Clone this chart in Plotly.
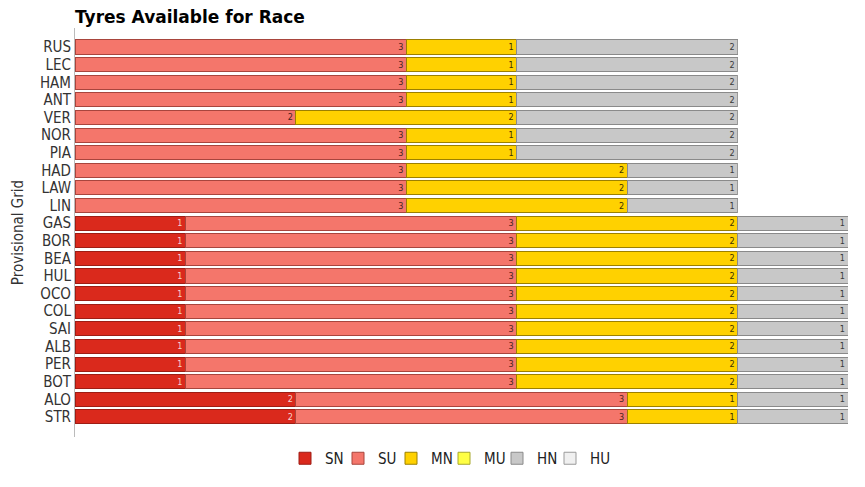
import plotly.graph_objects as go

drivers = ["RUS", "LEC", "HAM", "ANT", "VER", "NOR", "PIA", "HAD", "LAW", "LIN",
           "GAS", "BOR", "BEA", "HUL", "OCO", "COL", "SAI", "ALB", "PER", "BOT",
           "ALO", "STR"]

SN = [0, 0, 0, 0, 0, 0, 0, 0, 0, 0, 1, 1, 1, 1, 1, 1, 1, 1, 1, 1, 2, 2]
SU = [3, 3, 3, 3, 2, 3, 3, 3, 3, 3, 3, 3, 3, 3, 3, 3, 3, 3, 3, 3, 3, 3]
MN = [1, 1, 1, 1, 2, 1, 1, 2, 2, 2, 2, 2, 2, 2, 2, 2, 2, 2, 2, 2, 1, 1]
MU = [0] * 22
HN = [2, 2, 2, 2, 2, 2, 2, 1, 1, 1, 1, 1, 1, 1, 1, 1, 1, 1, 1, 1, 1, 1]
HU = [0] * 22

series = [
    ("SN", SN, "#DA291C", "#9E1D14", "#F5D5D0"),
    ("SU", SU, "#F4766B", "#A8453D", "#4A2420"),
    ("MN", MN, "#FFD100", "#9C8000", "#3D3200"),
    ("MU", MU, "#FFFF44", "#A8A82C", "#4A4A00"),
    ("HN", HN, "#C8C8C8", "#8A8A8A", "#3A3A3A"),
    ("HU", HU, "#F0F0F0", "#9A9A9A", "#3A3A3A"),
]

FONT = "DejaVu Sans Condensed, Liberation Sans Narrow, sans-serif"

fig = go.Figure()
for name, vals, fill, edge, tcol in series:
    fig.add_trace(go.Bar(
        name=name, y=drivers, x=vals, orientation="h",
        marker=dict(color=fill, line=dict(color=edge, width=1)),
        text=[str(v) if v else "" for v in vals],
        textposition="inside", insidetextanchor="end", textangle=0,
        textfont=dict(size=9, color=tcol, family=FONT),
        constraintext="none",
        hoverinfo="x+y+name",
    ))

# empty spacer entry so the last legend label is not clipped
fig.add_trace(go.Bar(
    name=" ", y=[None], x=[None], orientation="h",
    marker=dict(color="rgba(0,0,0,0)", line=dict(width=0)),
    hoverinfo="skip",
))

fig.update_layout(
    barmode="stack",
    bargap=0.2,
    width=865, height=487,
    margin=dict(l=67, r=25, t=20, b=58, autoexpand=False),
    paper_bgcolor="white", plot_bgcolor="white",
    title=dict(text="<b>Tyres Available for Race</b>", x=67 / 865, xref="container",
               xanchor="left", y=1.0, yref="container", yanchor="top",
               pad=dict(t=3, b=0, l=0, r=0),
               font=dict(family="DejaVu Sans, sans-serif", size=17, color="black")),
    font=dict(family=FONT, color="#333333"),
    xaxis=dict(range=[0, 7], showgrid=False, showticklabels=False, zeroline=False,
               showline=False, ticks="", automargin=False),
    yaxis=dict(autorange=False, range=[22.14, -1.08], type="category",
               categoryorder="array", categoryarray=drivers,
               tickmode="array", tickvals=drivers, ticktext=drivers,
               showgrid=False, showline=True, linecolor="#BBBBBB", linewidth=1,
               ticks="", tickfont=dict(size=15, color="#333333", family=FONT),
               automargin=False,
               title=dict(text="Provisional Grid", standoff=12,
                          font=dict(size=15, color="#333333", family=FONT))),
    legend=dict(orientation="h", x=277 / 865, xref="container", xanchor="left",
                y=(487 - 434) / 487, yref="container", yanchor="top",
                font=dict(size=15, family=FONT, color="#222222"),
                itemwidth=30, entrywidth=8, entrywidthmode="pixels",
                tracegroupgap=0, traceorder="normal"),
)

fig.write_html("out.html")
